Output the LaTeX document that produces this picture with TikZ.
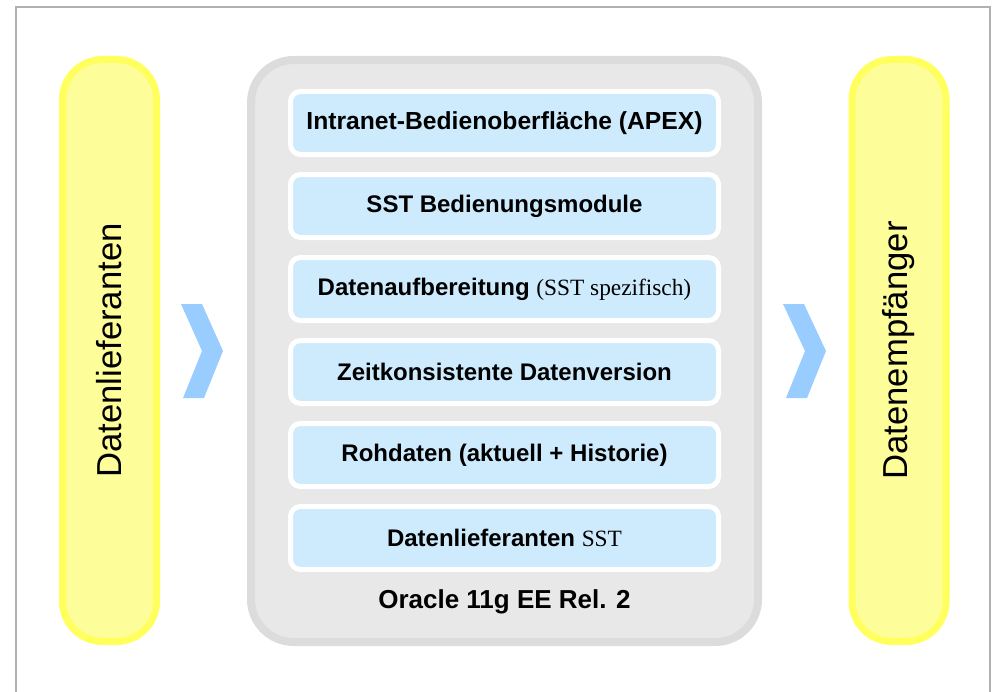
\documentclass[tikz,border=0pt]{standalone}
\usepackage{fontspec}
\setmainfont{Liberation Sans}
\newfontfamily\sstfont{Liberation Serif}
\usepackage{tikz}

\definecolor{pillarfill}{RGB}{253,253,153}
\definecolor{pillarline}{RGB}{255,255,94}
\definecolor{dbfill}{RGB}{232,232,232}
\definecolor{dbline}{RGB}{220,220,220}
\definecolor{layerfill}{RGB}{205,235,253}
\definecolor{chevron}{RGB}{153,204,255}
\definecolor{frameline}{RGB}{176,176,176}

\begin{document}
\begin{tikzpicture}[x=0.75pt, y=-0.75pt,
		pillar/.style={draw=pillarline, fill=pillarfill, line width=5.25pt, rounded corners=30pt,
			rotate=90, minimum width=436.5pt, minimum height=70.5pt, inner sep=0pt,
			font=\fontsize{26}{30}\selectfont},
		db/.style={draw=dbline, fill=dbfill, line width=6pt, rounded corners=32pt,
			minimum width=380.25pt, minimum height=436.5pt, inner sep=0pt},
		layer/.style={draw=white, fill=layerfill, line width=3.75pt, rounded corners=7.5pt,
			minimum width=321pt, minimum height=47.25pt, inner sep=0pt,
			font=\fontsize{18}{22}\selectfont\bfseries},
		arrowfill/.style={fill=chevron, draw=none}]
		\useasboundingbox (0,0) rectangle (993,692);
		\draw[frameline, line width=1.5pt] (16,7) rectangle (990,740);
		
		\node[pillar] (quelle) at (109.5,350.5) {Datenlieferanten};
		\node[pillar] (ziel) at (899,350.5) {Datenempfänger};
		
		\node[db] (oracle) at (504.5,351) {};
		
		\node[layer, font=\fontsize{18.5}{22}\selectfont\bfseries] (apex) at (504.5,123) {Intranet-Bedienoberfläche (APEX)};
		\node[layer] (module) at (504.5,206) {SST Bedienungsmodule};
		\node[layer] (aufber) at (504.5,289) {Datenaufbereitung {\mdseries\sstfont\fontsize{17.5}{22}\selectfont(SST spezifisch)}};
		\node[layer] (version) at (504.5,372) {Zeitkonsistente Datenversion};
		\node[layer] (roh) at (504.5,455) {Rohdaten (aktuell + Historie)};
		\node[layer] (sst) at (504.5,538) {Datenlieferanten {\mdseries\sstfont\fontsize{17.5}{22}\selectfont SST}};
		
		\node[font=\fontsize{19.5}{22}\selectfont\bfseries] (release) at (504.5,602) {Oracle 11g EE Rel. 2};
		
		% Pfeile
		\fill[arrowfill] (181,304) -- (202,304) -- (223,351) -- (204,398) -- (183,398) -- (202,351) -- cycle;
		\fill[arrowfill] (783,304) -- (804,304) -- (826,351) -- (807,398) -- (786,398) -- (805,351) -- cycle;
		
	\end{tikzpicture}
\end{document}
